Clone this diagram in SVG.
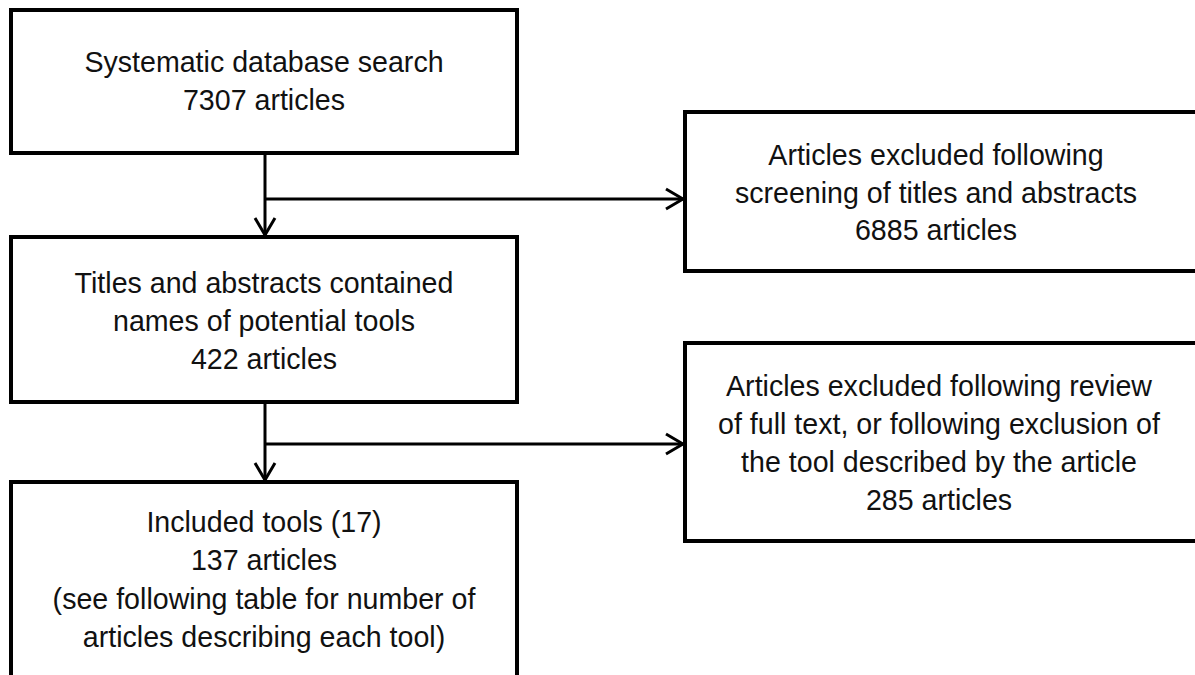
<svg xmlns="http://www.w3.org/2000/svg" width="1195" height="675" viewBox="0 0 1195 675">
<style>
.box{fill:#fff;stroke:#000;stroke-width:4}
.t{font-family:"Liberation Sans",Arial,sans-serif;font-size:28.6px;fill:#111;text-anchor:middle}
.c{fill:none;stroke:#000;stroke-width:3}
</style>
<defs>
<marker id="ah" markerUnits="userSpaceOnUse" markerWidth="30" markerHeight="30" viewBox="-20 -15 25 30" refX="0" refY="0" orient="auto" overflow="visible">
<path d="M-17,-10 L0,0 L-17,10" fill="none" stroke="#000" stroke-width="3" stroke-linejoin="round"/>
</marker>
</defs>
<rect width="1195" height="675" fill="#fff"/>
<g id="connectors">
<path class="c" d="M265,153 V235" marker-end="url(#ah)"/>
<path class="c" d="M265,199 H683" marker-end="url(#ah)"/>
<path class="c" d="M265,402 V480" marker-end="url(#ah)"/>
<path class="c" d="M265,444 H683" marker-end="url(#ah)"/>
</g>
<g id="search">
<rect class="box" x="11" y="10" width="506" height="143"/>
<text class="t" x="264" y="72">Systematic database search</text>
<text class="t" x="264" y="110">7307 articles</text>
</g>
<g id="titles">
<rect class="box" x="11" y="237" width="506" height="165"/>
<text class="t" x="264" y="293">Titles and abstracts contained</text>
<text class="t" x="264" y="331">names of potential tools</text>
<text class="t" x="264" y="369">422 articles</text>
</g>
<g id="included">
<rect class="box" x="11" y="482" width="506" height="230"/>
<text class="t" x="264" y="532">Included tools (17)</text>
<text class="t" x="264" y="570">137 articles</text>
<text class="t" x="264" y="609">(see following table for number of</text>
<text class="t" x="264" y="647">articles describing each tool)</text>
</g>
<g id="excluded1">
<rect class="box" x="685" y="112" width="540" height="159"/>
<text class="t" x="936" y="165">Articles excluded following</text>
<text class="t" x="936" y="203">screening of titles and abstracts</text>
<text class="t" x="936" y="240">6885 articles</text>
</g>
<g id="excluded2">
<rect class="box" x="685" y="343" width="540" height="198"/>
<text class="t" x="939" y="396">Articles excluded following review</text>
<text class="t" x="939" y="434">of full text, or following exclusion of</text>
<text class="t" x="939" y="472">the tool described by the article</text>
<text class="t" x="939" y="510">285 articles</text>
</g>
</svg>
